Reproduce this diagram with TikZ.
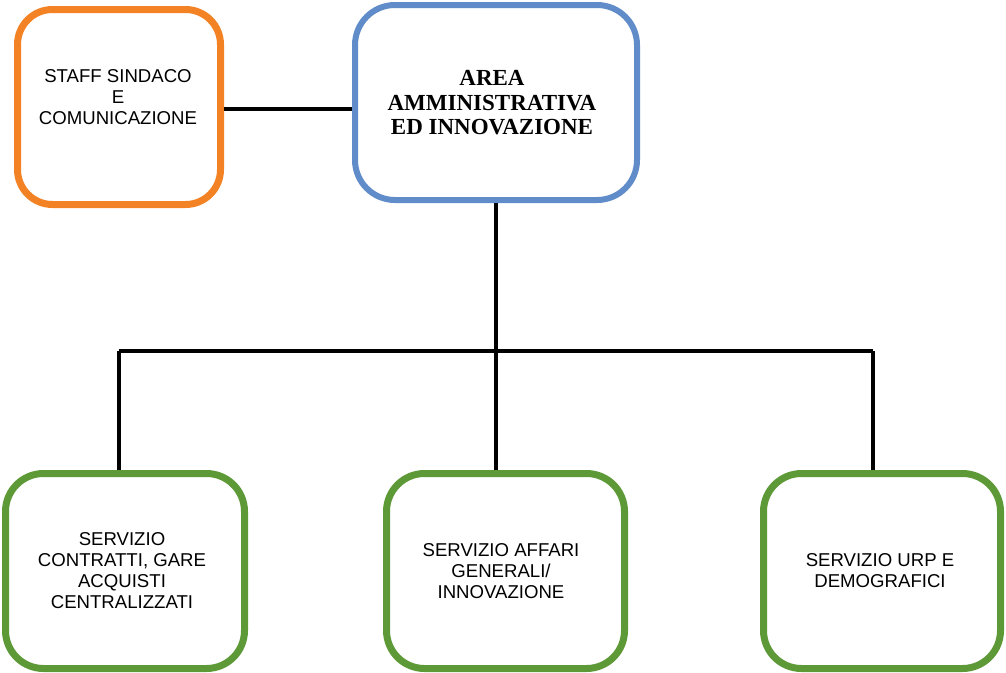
\documentclass[tikz,border=0pt]{standalone}
\usepackage{fontspec}
\setmainfont{Liberation Sans}
\newfontfamily\serifbold{Liberation Serif}
\definecolor{orangeB}{RGB}{242,130,35}
\definecolor{blueB}{RGB}{96,141,201}
\definecolor{greenB}{RGB}{94,153,56}
\begin{document}
\begin{tikzpicture}[x=1pt,y=-1pt,
  box/.style={draw,rounded corners=38pt,fill=white,inner sep=0pt},
  lbl/.style={align=center,font=\fontsize{18.6}{21}\selectfont,inner sep=0pt},
  conn/.style={draw=black,line width=3.5pt}]
\useasboundingbox (0,0) rectangle (1006,672);
\node[box,draw=orangeB,line width=7pt,minimum width=203pt,minimum height=195pt,rounded corners=35pt] (staff) at (119,107) {};
\node[box,draw=blueB,line width=6pt,minimum width=282pt,minimum height=195pt,rounded corners=40pt] (area) at (496,102.5) {};
\node[box,draw=greenB,line width=7pt,minimum width=239pt,minimum height=195pt] (g1) at (125,571) {};
\node[box,draw=greenB,line width=7pt,minimum width=238pt,minimum height=195pt] (g2) at (505.5,571) {};
\node[box,draw=greenB,line width=7pt,minimum width=237pt,minimum height=195pt] (g3) at (882,571) {};
\node[lbl] (tstaff) at (118,97) {STAFF SINDACO\\E\\COMUNICAZIONE};
\node[lbl,font=\serifbold\bfseries\fontsize{23}{24.5}\selectfont] (tarea) at (492,103) {AREA\\AMMINISTRATIVA\\ED INNOVAZIONE};
\node[lbl] (t1) at (122,571) {SERVIZIO\\CONTRATTI, GARE\\ACQUISTI\\CENTRALIZZATI};
\node[lbl] (t2) at (501,571) {SERVIZIO AFFARI\\GENERALI/\\INNOVAZIONE};
\node[lbl] (t3) at (880,571) {SERVIZIO URP E\\DEMOGRAFICI};
\coordinate (bus) at (496,351);
\draw[line width=4pt] (staff.east |- 0,109) -- (area.west |- 0,109);
\draw[line width=3.5pt] (area.south) -- (bus);
\draw[line width=4pt] (bus -| 119,0) -- (bus -| 873,0);
\draw[line width=3.5pt] (bus -| 119,0) -- (g1.north -| 119,0);
\draw[line width=3.5pt] (bus) -- (g2.north -| 496,0);
\draw[line width=3.5pt] (bus -| 873,0) -- (g3.north -| 873,0);
\end{tikzpicture}
\end{document}
